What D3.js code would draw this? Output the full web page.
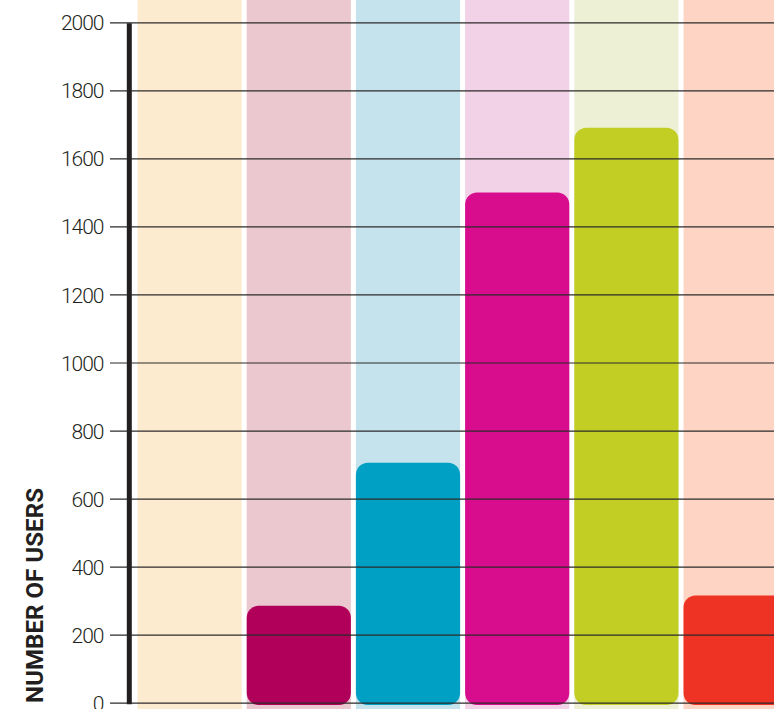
<!DOCTYPE html>
<html>
<head>
<meta charset="utf-8">
<script src="https://cdn.jsdelivr.net/npm/d3@7/dist/d3.min.js"></script>
<style>
  html, body { margin: 0; padding: 0; background: #fff; }
  svg { display: block; }
</style>
</head>
<body>
<svg id="chart" width="774" height="709"></svg>
<script>
// Users per group
const categories = ["Group 1", "Group 2", "Group 3", "Group 4", "Group 5", "Group 6"];
const users = [0, 285, 705, 1500, 1690, 315];
const yTicks = [0, 200, 400, 600, 800, 1000, 1200, 1400, 1600, 1800, 2000];
const bandColors = ["#FDEBCF", "#EBC8D0", "#C4E3EC", "#F2D2E6", "#EDF0D4", "#FED5C4"];
const barColors = ["#F7B35A", "#B0005A", "#009FC4", "#D70D8D", "#C3CE24", "#EE3325"];
const axisTitle = "NUMBER OF USERS";

const svg = d3.select("#chart");
const W = 774, H = 709;

const step = 109.2;
const x = d3.scaleBand()
  .domain(categories)
  .range([135, 135 + step * categories.length])
  .paddingInner(0.046)
  .paddingOuter(0.023);

const y = d3.scaleLinear()
  .domain([0, 2000])
  .range([702.7, 22.3]);

// background column bands
svg.append("g")
  .selectAll("rect")
  .data(categories)
  .join("rect")
  .attr("x", d => x(d))
  .attr("y", 0)
  .attr("width", x.bandwidth())
  .attr("height", H)
  .attr("fill", (d, i) => bandColors[i]);

// rounded bars
const data = categories.map((c, i) => ({ c, v: users[i], color: barColors[i] }));
svg.append("g")
  .selectAll("rect")
  .data(data.filter(d => d.v > 0))
  .join("rect")
  .attr("x", d => x(d.c))
  .attr("y", d => y(d.v))
  .attr("width", x.bandwidth())
  .attr("height", d => y(0) - y(d.v) + 2.3)
  .attr("rx", 12)
  .attr("ry", 12)
  .attr("fill", d => d.color);

// grid lines and tick labels
const axis = d3.axisLeft(y)
  .tickValues(yTicks)
  .tickSize(-(W - 110))
  .tickPadding(6)
  .tickFormat(d3.format("d"));

const gAxis = svg.append("g")
  .attr("transform", "translate(110,0)")
  .call(axis);

gAxis.select(".domain").remove();
gAxis.selectAll(".tick line")
  .attr("stroke", "#2b2b2b")
  .attr("stroke-width", 1.2);
gAxis.selectAll(".tick text")
  .attr("fill", "#231F20")
  .attr("font-family", "Roboto, 'Liberation Sans', sans-serif")
  .attr("font-weight", 300)
  .attr("font-size", 21)
  .attr("letter-spacing", -1)
  .attr("x", -6.5)
  .attr("dy", "0.36em");

// heavy vertical axis rule
svg.append("line")
  .attr("x1", 129.3).attr("x2", 129.3)
  .attr("y1", y(2000) + 1).attr("y2", y(0) + 1.5)
  .attr("stroke", "#231F20")
  .attr("stroke-width", 5);

// axis title
svg.append("text")
  .attr("transform", `translate(43,703) rotate(-90)`)
  .attr("text-anchor", "start")
  .attr("font-family", "Roboto, 'Liberation Sans', sans-serif")
  .attr("font-weight", 700)
  .attr("font-size", 24.5)
  .attr("fill", "#231F20")
  .attr("textLength", 215)
  .attr("lengthAdjust", "spacingAndGlyphs")
  .text(axisTitle);
</script>
</body>
</html>
